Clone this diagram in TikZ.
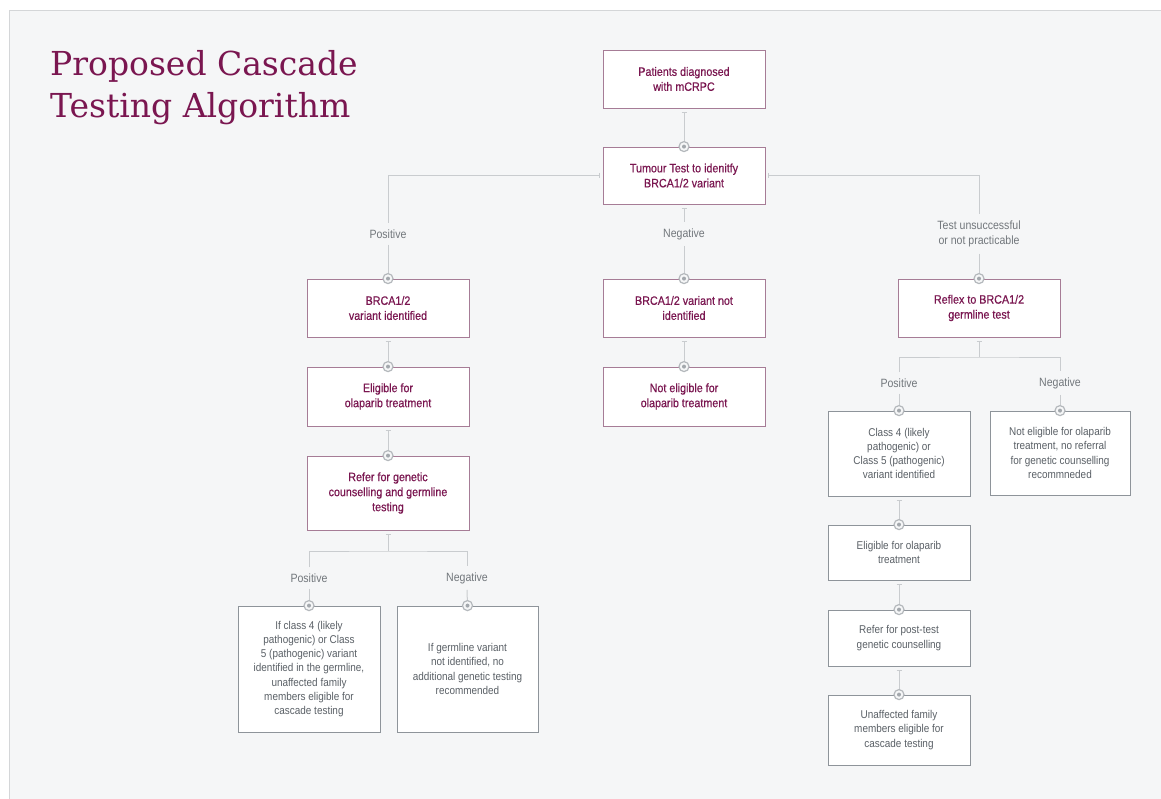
\documentclass[tikz,border=0pt]{standalone}
\usepackage{fontspec}
\setmainfont[FakeStretch=0.88]{Liberation Sans}
\newfontfamily\boxfont[FakeStretch=0.88,FakeBold=0.5]{Liberation Sans}
\newfontfamily\titlefont{DejaVu Serif}
\usetikzlibrary{arrows.meta}

\definecolor{bgc}{HTML}{F5F6F7}
\definecolor{framec}{HTML}{D4D6D8}
\definecolor{maroon}{HTML}{7A1650}
\definecolor{boxm}{HTML}{A67C96}
\definecolor{boxg}{HTML}{8E949A}
\definecolor{txtg}{HTML}{5A6066}
\definecolor{labg}{HTML}{72777C}
\definecolor{linec}{HTML}{C9CCCF}
\definecolor{ringc}{HTML}{B4B8BC}
\definecolor{dotc}{HTML}{A3A8AD}

\tikzset{
  mbox/.style={draw=boxm, line width=0.8pt, fill=white, align=center,
    text=maroon, inner sep=0pt, minimum width=162pt,
    font=\boxfont\fontsize{12.2}{15}\selectfont},
  gbox/.style={draw=boxg, line width=0.8pt, fill=white, align=center,
    text=txtg, inner sep=0pt, minimum width=142pt,
    font=\fontsize{11.3}{14.2}\selectfont},
  lab/.style={text=labg, align=center, inner sep=6pt,
    font=\fontsize{12}{15.5}\selectfont},
  conn/.style={draw=linec, line width=1pt},
  tick/.style={conn, {Bar[width=5pt,line width=0.8pt]}-},
  ttl/.style={text=maroon, anchor=base west, inner sep=0pt,
    font=\titlefont\fontsize{33}{40}\selectfont}
}

% ring-and-dot port on the top edge of a box
\newcommand\portmark[1]{%
  \fill[bgc] (#1) circle (5pt);
  \draw[ringc, line width=1.2pt] (#1) circle (5pt);
  \fill[dotc] (#1) circle (2pt);}

\begin{document}
\begin{tikzpicture}[x=1pt,y=-1pt]
\useasboundingbox (0,0) rectangle (1161,799);
\fill[white] (0,0) rectangle (1161,799);
\fill[bgc] (9.5,10.5) rectangle (1161,799);
\draw[framec, line width=1pt] (9.5,799) -- (9.5,10.5) -- (1161,10.5);

% title
\node[ttl] (t1) at (50,76) {Proposed Cascade};
\node[ttl] (t2) at (50,118) {Testing Algorithm};

% main column
\node[mbox, minimum height=58pt] (p1) at (684,79) {Patients diagnosed\\with mCRPC};
\node[mbox, minimum height=57pt] (tum) at (684,175.5) {Tumour Test to idenitfy\\BRCA1/2 variant};

% positive tumour branch
\node[mbox, minimum height=58pt] (b3) at (388,308) {BRCA1/2\\variant identified};
\node[mbox, minimum height=59pt] (b4) at (388,396.5) {Eligible for\\olaparib treatment};
\node[mbox, minimum height=74pt] (b5) at (388,493) {Refer for genetic\\counselling and germline\\testing};
\node[gbox, minimum height=126pt] (b9) at (309,669) {If class 4 (likely\\pathogenic) or Class\\5 (pathogenic) variant\\identified in the germline,\\unaffected family\\members eligible for\\cascade testing};
\node[gbox, minimum width=141pt, minimum height=126pt] (b10) at (467.5,669) {If germline variant\\not identified, no\\additional genetic testing\\recommended};

% negative tumour branch
\node[mbox, minimum height=58pt] (b6) at (684,308) {BRCA1/2 variant not\\identified};
\node[mbox, minimum height=59pt] (b7) at (684,396.5) {Not eligible for\\olaparib treatment};

% unsuccessful tumour test branch
\node[mbox, minimum height=58pt] (b8) at (979,308) {Reflex to BRCA1/2\\germline test};
\node[gbox, minimum height=85pt] (b11) at (899,453.5) {Class 4 (likely\\pathogenic) or\\Class 5 (pathogenic)\\variant identified};
\node[gbox, minimum width=140pt, minimum height=84pt] (b12) at (1060,453) {Not eligible for olaparib\\treatment, no referral\\for genetic counselling\\recommneded};
\node[gbox, minimum height=55pt] (b13) at (899,552.5) {Eligible for olaparib\\treatment};
\node[gbox, minimum height=56pt] (b14) at (899,638) {Refer for post-test\\genetic counselling};
\node[gbox, minimum height=70pt] (b15) at (899,730) {Unaffected family\\members eligible for\\cascade testing};

% branch labels
\node[lab] (l1) at (388,234) {Positive};
\node[lab] (l2) at (684,234) {Negative};
\node[lab] (l3) at (979,234) {Test unsuccessful\\or not practicable};
\node[lab] (l4) at (309,578) {Positive};
\node[lab] (l5) at (467,578) {Negative};
\node[lab] (l6) at (899,383) {Positive};
\node[lab] (l7) at (1060,383) {Negative};

\coordinate (s5) at (388,551);
\coordinate (s8) at (979,357);

% connectors
\draw[tick] ([yshift=-4pt]p1.south) -- (tum.north);
\draw[tick] ([xshift=-3pt]tum.west) -| (l1.north);
\draw[conn] (l1.south) -- (b3.north);
\draw[tick] ([yshift=-4pt]tum.south) -- (l2.north);
\draw[conn] (l2.south) -- (b6.north);
\draw[tick] ([xshift=3pt]tum.east) -| (l3.north);
\draw[conn] (l3.south) -- (b8.north);

\draw[tick] ([yshift=-4pt]b3.south) -- (b4.north);
\draw[tick] ([yshift=-4pt]b4.south) -- (b5.north);
\draw[tick] ([yshift=-4pt]b5.south) -- (s5);
\draw[conn] (l4.north) |- (s5) -| (l5.north);
\draw[conn] (l4.south) -- (b9.north);
\draw[conn] (l5.south) -- (b10.north);

\draw[tick] ([yshift=-4pt]b6.south) -- (b7.north);

\draw[tick] ([yshift=-4pt]b8.south) -- (s8);
\draw[conn] (l6.north) |- (s8) -| (l7.north);
\draw[conn] (l6.south) -- (b11.north);
\draw[conn] (l7.south) -- (b12.north);
\draw[tick] ([yshift=-4pt]b11.south) -- (b13.north);
\draw[tick] ([yshift=-4pt]b13.south) -- (b14.north);
\draw[tick] ([yshift=-4pt]b14.south) -- (b15.north);

% ports
\foreach \n in {tum,b3,b4,b5,b6,b7,b8,b9,b10,b11,b12,b13,b14,b15}
  {\portmark{\n.north}}
\end{tikzpicture}
\end{document}
